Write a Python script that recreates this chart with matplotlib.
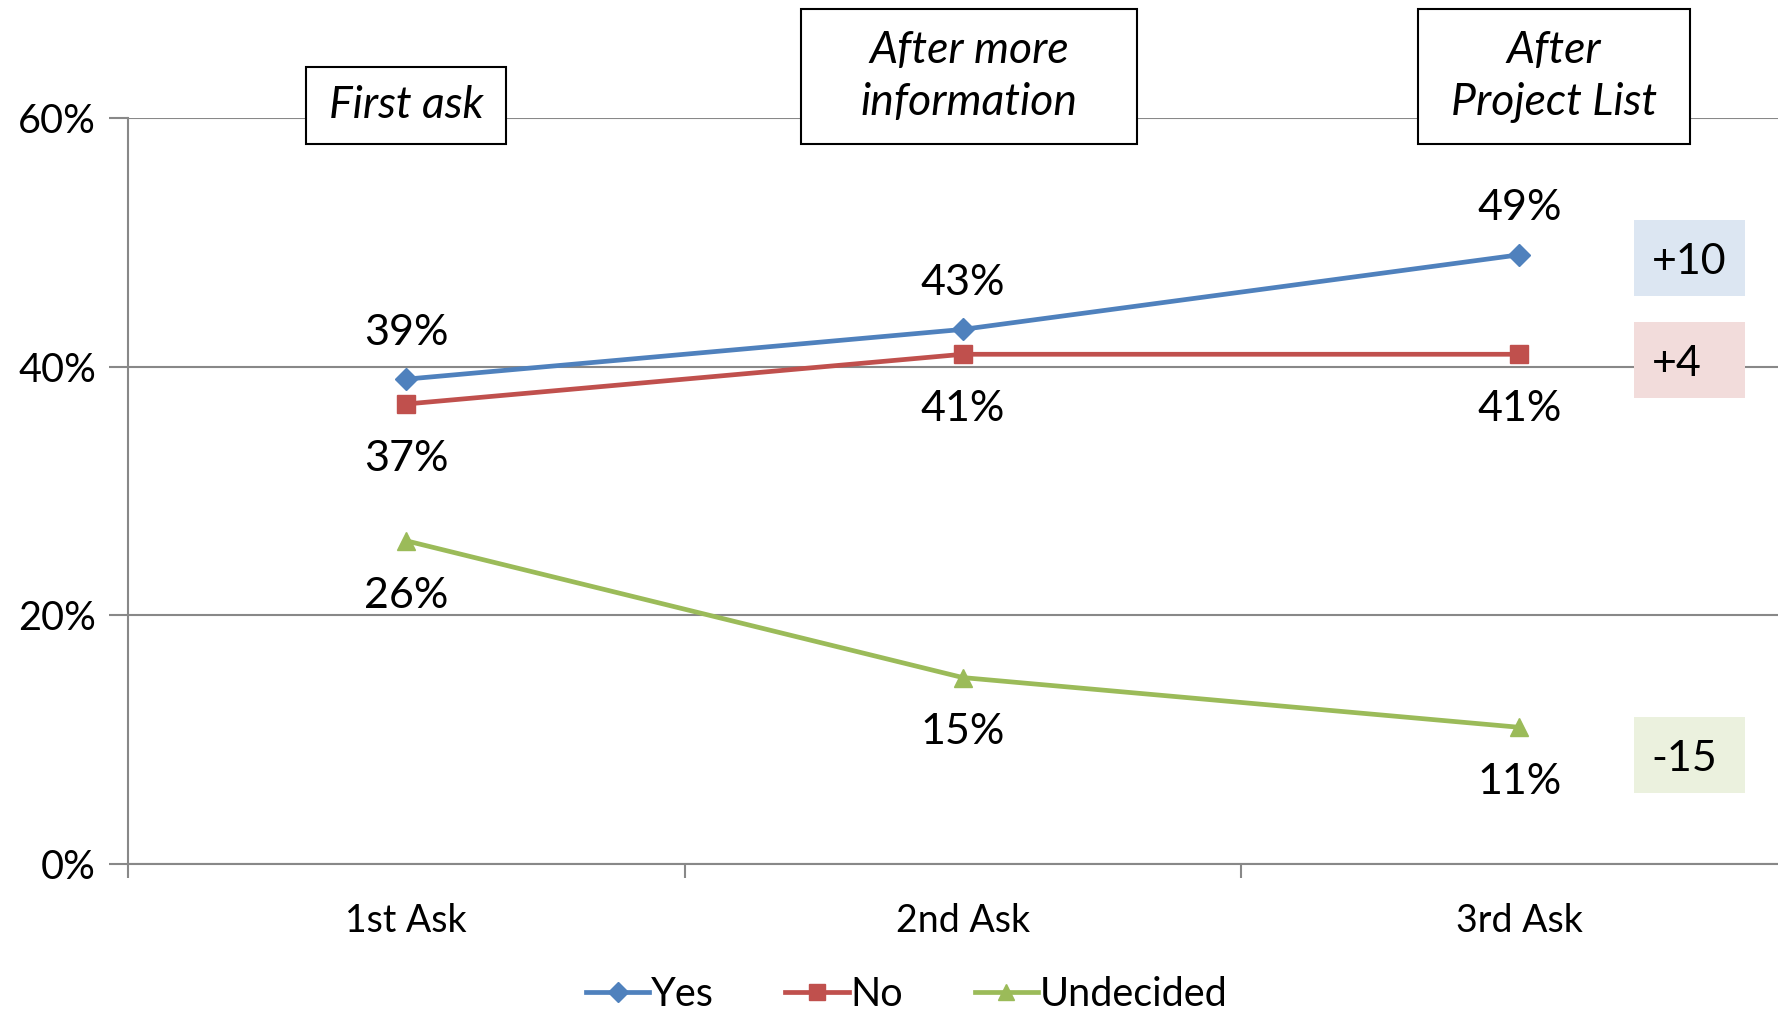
import matplotlib
matplotlib.use("Agg")
import matplotlib.pyplot as plt
from matplotlib.patches import Rectangle
from matplotlib.lines import Line2D

plt.rcParams['font.family'] = ['Lato', 'DejaVu Sans']

categories = ["1st Ask", "2nd Ask", "3rd Ask"]
yes = [39, 43, 49]
no = [37, 41, 41]
undecided = [26, 15, 11]
y_ticks = [0, 20, 40, 60]
y_tick_labels = ["0%", "20%", "40%", "60%"]
stage_titles = ["First ask", "After more\ninformation", "After\nProject List"]
change_labels = ["+10", "+4", "-15"]

blue = "#4F81BD"
red = "#C0504D"
green = "#9BBB59"
grid_c = "#888888"

fig = plt.figure(figsize=(17.78, 10.13), dpi=100)
ax = fig.add_axes([0.072, 0.147, 0.939, 0.7365])

xs = [i + 0.5 for i in range(len(categories))]
ax.plot(xs, yes, color=blue, lw=3.4, marker="D", ms=11, label="Yes", zorder=3)
ax.plot(xs, no, color=red, lw=3.4, marker="s", ms=13, label="No", zorder=3)
ax.plot(xs, undecided, color=green, lw=3.4, marker="^", ms=13, label="Undecided", zorder=3)

ax.set_xlim(0, 3)
ax.set_ylim(0, 60)
ax.set_yticks(y_ticks)
ax.set_yticklabels(y_tick_labels, fontsize=28.5)
ax.set_xticks([0, 1, 2, 3])
ax.set_xticklabels([])
ax.set_xticks(xs, minor=True)
ax.set_xticklabels(categories, minor=True, fontsize=27)
ax.tick_params(axis="x", which="minor", length=0, pad=28)
ax.tick_params(axis="x", which="major", length=10, width=1.5, color=grid_c, direction="out")
ax.tick_params(axis="y", length=14, width=1.5, color=grid_c, direction="out", pad=9)
ax.yaxis.grid(True, color=grid_c, lw=1.5)
ax.set_axisbelow(True)
for s in ["top", "right"]:
    ax.spines[s].set_visible(False)
for s in ["left", "bottom"]:
    ax.spines[s].set_color(grid_c)
    ax.spines[s].set_linewidth(1.5)

def lab(vals, above):
    for x, v in zip(xs, vals):
        ax.annotate(f"{v}%", (x, v), xytext=(0, 33.5 if above else -39.5),
                    textcoords="offset points", ha="center", va="center", fontsize=31)

lab(yes, True)
lab(no, False)
lab(undecided, False)

# Stage boxes
top_boxes = [(0.1722, 0.1125, 0.076, 0.2284, 0.896),
             (0.4505, 0.189, 0.1333, 0.545, 0.9245),
             (0.7975, 0.153, 0.1333, 0.874, 0.9245)]
for (x0, w, h, cx, cy), t in zip(top_boxes, stage_titles):
    fig.patches.append(Rectangle((x0, 0.8578), w, h, transform=fig.transFigure,
                                 facecolor="white", edgecolor="black", lw=1.5, zorder=5))
    fig.text(cx, cy, t, ha="center", va="center", fontsize=32, style="italic",
             linespacing=1.35, zorder=6)

# Change boxes
right_boxes = [(0.7078, "#DCE6F2"), (0.607, "#F2DCDB"), (0.2172, "#EBF1DE")]
for (y0, fc), t in zip(right_boxes, change_labels):
    fig.patches.append(Rectangle((0.919, y0), 0.0624, 0.075, transform=fig.transFigure,
                                 facecolor=fc, edgecolor="none", zorder=5))
    fig.text(0.929, y0 + 0.034, t, ha="left", va="center", fontsize=31, zorder=6)

handles = [Line2D([], [], color=blue, lw=3.4, marker="D", ms=10),
           Line2D([], [], color=red, lw=3.4, marker="s", ms=12),
           Line2D([], [], color=green, lw=3.4, marker="^", ms=12)]
fig.legend(handles, ["Yes", "No", "Undecided"], loc="center", bbox_to_anchor=(0.51, 0.018),
           ncol=3, frameon=False, fontsize=28.5, handlelength=1.6, handletextpad=0.05,
           columnspacing=1.8)

fig.savefig("out.png", dpi=100)
